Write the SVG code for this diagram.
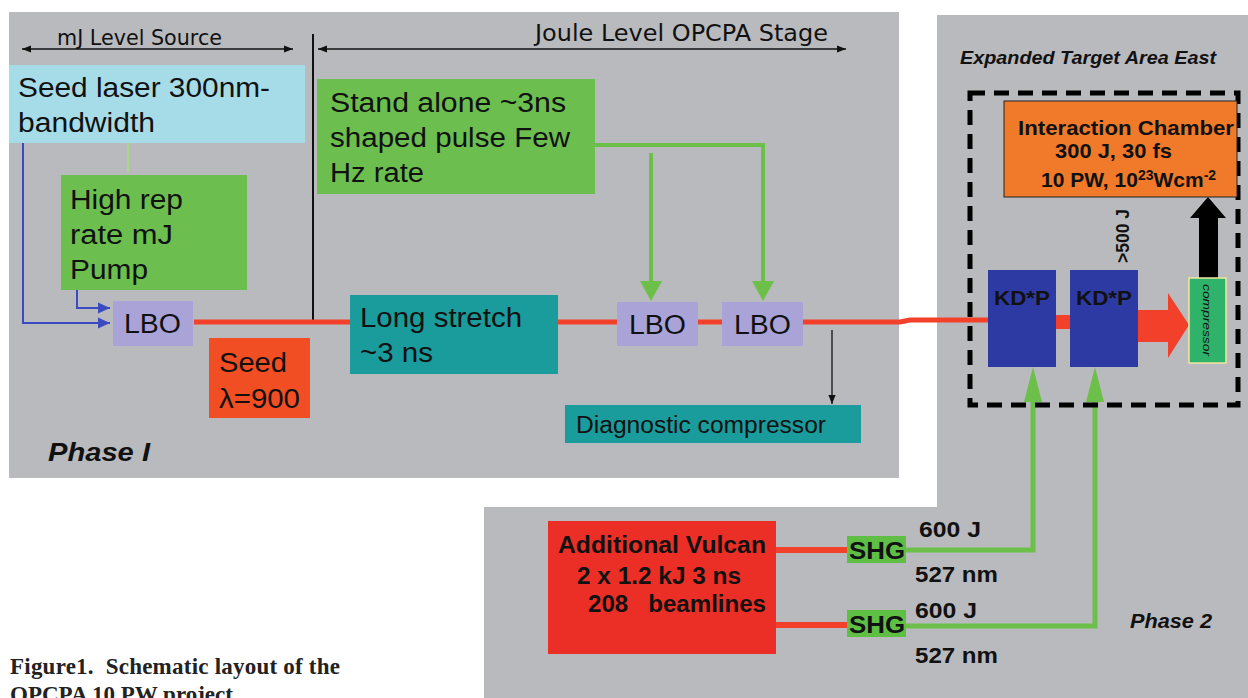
<svg xmlns="http://www.w3.org/2000/svg" width="1248" height="698" viewBox="0 0 1248 698">
<defs>
<style>
.panel{fill:#b9babe}
.t{font-family:"Liberation Sans",Arial,sans-serif;fill:#111}
.big{font-size:27px}
.hdr{font-family:"DejaVu Sans","Liberation Sans",sans-serif;fill:#111}
.b{font-family:"Liberation Sans",Arial,sans-serif;font-weight:bold;fill:#111}
.nar{font-family:"Liberation Sans",Arial,sans-serif;font-weight:bold;fill:#111}
.cap{font-family:"Liberation Serif","Times New Roman",serif;font-weight:bold;font-size:23px;fill:#222}
.red{stroke:#f2402a;fill:none}
.grn{stroke:#6cc04a;fill:none}
</style>
<marker id="ah" viewBox="0 0 10 10" refX="10" refY="5" markerWidth="9" markerHeight="9" markerUnits="userSpaceOnUse" orient="auto-start-reverse"><path d="M0,1 L10,5 L0,9 z" fill="#111"/></marker>
<marker id="bh" viewBox="0 0 10 10" refX="10" refY="5" markerWidth="12" markerHeight="12" markerUnits="userSpaceOnUse" orient="auto"><path d="M0,0.5 L10,5 L0,9.5 z" fill="#3a4ac0"/></marker>
</defs>
<rect width="1248" height="698" fill="#fff"/>
<!-- panels -->
<rect class="panel" x="9" y="12" width="890" height="466"/>
<rect class="panel" x="937" y="15" width="311" height="683"/>
<rect class="panel" x="484" y="507" width="764" height="191"/>

<!-- section headers -->
<g id="headers">
<line x1="22" y1="49" x2="293" y2="49" stroke="#111" stroke-width="1.3" marker-start="url(#ah)" marker-end="url(#ah)"/>
<text class="hdr" font-size="21" x="57" y="45" textLength="165" lengthAdjust="spacingAndGlyphs">mJ Level Source</text>
<line x1="313" y1="34" x2="313" y2="322" stroke="#111" stroke-width="2"/>
<line x1="318" y1="49" x2="846" y2="49" stroke="#111" stroke-width="1.3" marker-start="url(#ah)" marker-end="url(#ah)"/>
<text class="hdr" font-size="23" x="535" y="41" textLength="293" lengthAdjust="spacingAndGlyphs">Joule Level OPCPA Stage</text>
</g>

<g id="connectors">
<!-- blue pump lines -->
<polyline points="23,143 23,323 110,323" stroke="#3a4ac0" stroke-width="2" fill="none" marker-end="url(#bh)"/>
<polyline points="77,290 77,308 110,308" stroke="#3a4ac0" stroke-width="2" fill="none" marker-end="url(#bh)"/>
<line x1="128" y1="143" x2="128" y2="172" stroke="#a8d888" stroke-width="2"/>
<!-- red beam line -->
<line class="red" x1="194" y1="322" x2="350" y2="322" stroke-width="5"/>
<line class="red" x1="558" y1="322" x2="617" y2="322" stroke-width="5"/>
<line class="red" x1="698" y1="322" x2="722" y2="322" stroke-width="5"/>
<polyline class="red" points="803,322 900,322 910,320 988,320" stroke-width="5"/>
<line class="red" x1="1056" y1="322" x2="1070" y2="322" stroke-width="14"/>
<path d="M1138,310 L1168,310 L1168,293 L1189,325 L1168,358 L1168,342 L1138,342 z" fill="#f2402a"/>
<!-- green pump from stand-alone -->
<polyline class="grn" points="595,145 763,145 763,282" stroke-width="4"/>
<line class="grn" x1="651" y1="153" x2="651" y2="282" stroke-width="4"/>
<path d="M640,281 L662,281 L651,301 z" fill="#6cc04a"/>
<path d="M752,281 L774,281 L763,301 z" fill="#6cc04a"/>
<!-- diagnostic tap -->
<line x1="832" y1="330" x2="832" y2="404" stroke="#111" stroke-width="1.3" marker-end="url(#ah)"/>
<!-- black arrow to chamber -->
<path d="M1199,278 L1218,278 L1218,218 L1226,218 L1208,197 L1190,218 L1199,218 z" fill="#000"/>
<!-- phase 2 red lines -->
<line class="red" x1="776" y1="550" x2="847" y2="550" stroke-width="6"/>
<line class="red" x1="776" y1="625" x2="847" y2="625" stroke-width="6"/>
<!-- phase 2 green lines -->
<polyline class="grn" points="906,550 1033,550 1033,395" stroke-width="5"/>
<polyline class="grn" points="906,626 1095,626 1095,395" stroke-width="5"/>
<path d="M1024,402 L1033,367 L1042,402 z" fill="#6cc04a"/>
<path d="M1086,402 L1095,367 L1104,402 z" fill="#6cc04a"/>
</g>

<g id="seed-laser">
<rect x="9" y="65" width="296" height="78" fill="#a6dce8"/>
<text class="t big" x="18" y="97" textLength="252" lengthAdjust="spacingAndGlyphs">Seed laser 300nm-</text>
<text class="t big" x="18" y="132" textLength="137" lengthAdjust="spacingAndGlyphs">bandwidth</text>
</g>
<g id="pump">
<rect x="61" y="175" width="186" height="115" fill="#6cbf4e"/>
<text class="t big" x="70" y="209" textLength="113" lengthAdjust="spacingAndGlyphs">High rep</text>
<text class="t big" x="70" y="244" textLength="103" lengthAdjust="spacingAndGlyphs">rate mJ</text>
<text class="t big" x="70" y="279" textLength="78" lengthAdjust="spacingAndGlyphs">Pump</text>
</g>
<g id="lbo1">
<rect x="113" y="301" width="80" height="45" fill="#a9a3d8"/>
<text class="t big" x="124" y="333" textLength="57" lengthAdjust="spacingAndGlyphs">LBO</text>
</g>
<g id="seed">
<rect x="209" y="338" width="101" height="80" fill="#f24e23"/>
<text class="t big" x="219" y="372" textLength="68" lengthAdjust="spacingAndGlyphs">Seed</text>
<text class="t big" x="219" y="408" textLength="81" lengthAdjust="spacingAndGlyphs">λ=900</text>
</g>
<g id="standalone">
<rect x="317" y="79" width="278" height="115" fill="#6cbf4e"/>
<text class="t big" x="330" y="112" textLength="236" lengthAdjust="spacingAndGlyphs">Stand alone ~3ns</text>
<text class="t big" x="330" y="147" textLength="240" lengthAdjust="spacingAndGlyphs">shaped pulse Few</text>
<text class="t big" x="330" y="182" textLength="94" lengthAdjust="spacingAndGlyphs">Hz rate</text>
</g>
<g id="stretch">
<rect x="350" y="295" width="208" height="79" fill="#1a9b9c"/>
<text class="t big" x="360" y="327" textLength="162" lengthAdjust="spacingAndGlyphs">Long stretch</text>
<text class="t big" x="360" y="362" textLength="73" lengthAdjust="spacingAndGlyphs">~3 ns</text>
</g>
<g id="lbo2">
<rect x="617" y="302" width="81" height="44" fill="#a9a3d8"/>
<text class="t big" x="629" y="334" textLength="57" lengthAdjust="spacingAndGlyphs">LBO</text>
</g>
<g id="lbo3">
<rect x="722" y="302" width="81" height="44" fill="#a9a3d8"/>
<text class="t big" x="734" y="334" textLength="57" lengthAdjust="spacingAndGlyphs">LBO</text>
</g>
<g id="diag">
<rect x="565" y="405" width="296" height="38" fill="#1a9b9c"/>
<text class="t" font-size="23" x="576" y="433" textLength="250" lengthAdjust="spacingAndGlyphs">Diagnostic compressor</text>
</g>
<text class="b" font-style="italic" font-size="25" x="48" y="461" textLength="102" lengthAdjust="spacingAndGlyphs">Phase I</text>

<!-- target area -->
<text class="b" font-style="italic" font-size="18" x="960" y="64" textLength="256" lengthAdjust="spacingAndGlyphs">Expanded Target Area East</text>
<rect x="970" y="93" width="268" height="312" fill="none" stroke="#000" stroke-width="5" stroke-dasharray="15,9"/>
<g id="chamber">
<rect x="1004" y="101" width="233" height="96" fill="#f07a2a" stroke="#222" stroke-width="1"/>
<text class="b" font-size="21" x="1018" y="135" textLength="216" lengthAdjust="spacingAndGlyphs">Interaction Chamber</text>
<text class="b" font-size="21" x="1055" y="158" textLength="117" lengthAdjust="spacingAndGlyphs">300 J, 30 fs</text>
<text class="b" font-size="21" x="1041" y="187">10 PW, 10<tspan font-size="14" dy="-7">23</tspan><tspan dy="7">Wcm</tspan><tspan font-size="14" dy="-7">-2</tspan></text>
</g>
<text class="b" font-size="19" transform="translate(1129,263) rotate(-90)" textLength="54" lengthAdjust="spacingAndGlyphs">&gt;500 J</text>
<g id="kdp1">
<rect x="988" y="270" width="68" height="97" fill="#2e3aa4"/>
<text class="b" font-size="21" x="994" y="305" textLength="56" lengthAdjust="spacingAndGlyphs">KD*P</text>
</g>
<g id="kdp2">
<rect x="1070" y="270" width="68" height="97" fill="#2e3aa4"/>
<text class="b" font-size="21" x="1076" y="305" textLength="56" lengthAdjust="spacingAndGlyphs">KD*P</text>
</g>
<g id="compressor">
<rect x="1189" y="278" width="37" height="85" fill="#2fb36a" stroke="#f2e6a0" stroke-width="1.5"/>
<text class="t" font-size="11" font-style="italic" transform="translate(1203,284) rotate(90)" textLength="72" lengthAdjust="spacingAndGlyphs">compressor</text>
</g>

<!-- phase 2 -->
<g id="vulcan">
<rect x="548" y="521" width="228" height="133" fill="#ec2f26"/>
<text class="nar" font-size="23" x="558" y="553" textLength="208" lengthAdjust="spacingAndGlyphs">Additional Vulcan</text>
<text class="nar" font-size="23" x="577" y="584" textLength="164" lengthAdjust="spacingAndGlyphs">2 x 1.2 kJ 3 ns</text>
<text class="nar" font-size="23" x="588" y="612" textLength="178" lengthAdjust="spacingAndGlyphs" xml:space="preserve">208   beamlines</text>
</g>
<g id="shg1">
<rect x="847" y="536" width="59" height="27" fill="#5fbf45"/>
<text class="nar" font-size="23" x="849" y="559" textLength="56" lengthAdjust="spacingAndGlyphs">SHG</text>
</g>
<g id="shg2">
<rect x="847" y="610" width="59" height="27" fill="#5fbf45"/>
<text class="nar" font-size="23" x="849" y="633" textLength="56" lengthAdjust="spacingAndGlyphs">SHG</text>
</g>
<text class="nar" font-size="22" x="919" y="537" textLength="62" lengthAdjust="spacingAndGlyphs">600 J</text>
<text class="nar" font-size="22" x="915" y="582" textLength="83" lengthAdjust="spacingAndGlyphs">527 nm</text>
<text class="nar" font-size="22" x="915" y="618" textLength="62" lengthAdjust="spacingAndGlyphs">600 J</text>
<text class="nar" font-size="22" x="915" y="663" textLength="83" lengthAdjust="spacingAndGlyphs">527 nm</text>
<text class="b" font-style="italic" font-size="20" x="1130" y="628" textLength="82" lengthAdjust="spacingAndGlyphs">Phase 2</text>

<!-- caption -->
<text class="cap" x="10" y="674" textLength="330" lengthAdjust="spacing" xml:space="preserve">Figure1.  Schematic layout of the</text>
<text class="cap" x="10" y="702">OPCPA 10 PW project</text>
</svg>
